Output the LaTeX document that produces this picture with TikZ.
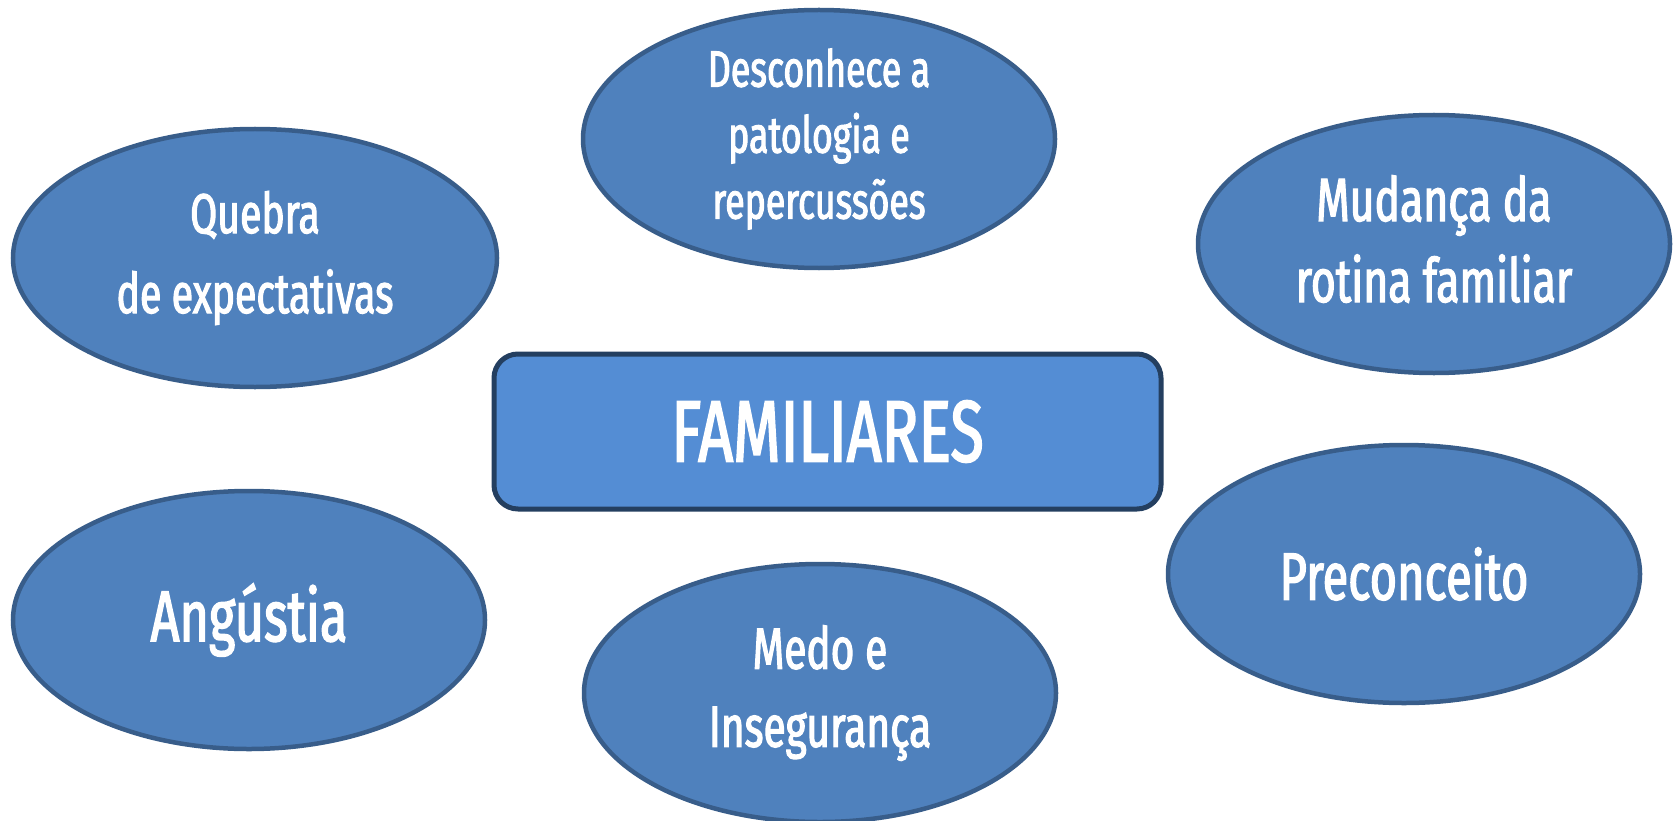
\documentclass[tikz,border=0pt]{standalone}
\usepackage{fontspec}
\setmainfont{Fira Sans}[FakeStretch=0.70, FakeBold=2]
\usetikzlibrary{shapes.geometric}
\definecolor{efill}{HTML}{4F81BD}
\definecolor{edraw}{HTML}{385D8A}
\definecolor{rfill}{HTML}{548DD4}
\definecolor{rdraw}{HTML}{243F60}
\tikzset{
  bubble/.style={ellipse, fill=efill, draw=edraw, line width=4.5pt, minimum width=472pt, minimum height=258pt, inner sep=0pt, text=white, align=center},
  hub/.style={rectangle, rounded corners=24pt, fill=rfill, draw=rdraw, line width=5pt, minimum width=667pt, minimum height=155pt, text=white, inner sep=0pt}
}
\begin{document}
\begin{tikzpicture}[x=1pt,y=-1pt]
\useasboundingbox (0,0) rectangle (1677,821);
\node[bubble, minimum width=484pt, font=\fontsize{56}{80}\selectfont] (quebra) at (255,258) {Quebra\hspace{16pt}\\de expectativas};
\node[bubble, font=\fontsize{51}{66}\selectfont] (desc) at (819,139) {Desconhece a\\patologia e\\repercussões};
\node[bubble, font=\fontsize{61}{81}\selectfont] (mud) at (1434,244) {};
\node[text=white, align=center, inner sep=0pt, font=\fontsize{61}{81}\selectfont] (mudtext) at (1434,239) {Mudança da\\rotina familiar};
\node[bubble, font=\fontsize{72}{80}\selectfont] (ang) at (249,620) {Angústia};
\node[bubble, font=\fontsize{58}{78}\selectfont] (medo) at (820,693) {Medo e\\Insegurança};
\node[bubble, font=\fontsize{67}{80}\selectfont] (prec) at (1404,574) {Preconceito};
\node[hub, font=\fontsize{87}{90}\selectfont] (fam) at (827.5,431.5) {FAMILIARES};
\end{tikzpicture}
\end{document}
